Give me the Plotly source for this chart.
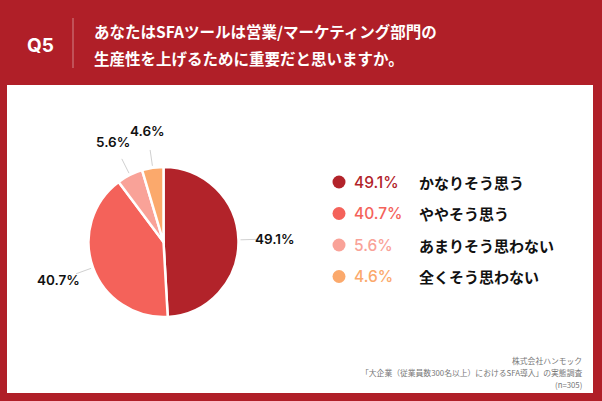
import math
import plotly.graph_objects as go

# ---- data ----
categories = ["かなりそう思う", "ややそう思う", "あまりそう思わない", "全くそう思わない"]
values = [49.1, 40.7, 5.6, 4.6]
colors = ["#b2232a", "#f4625a", "#f9a298", "#fba96c"]
title_lines = ["あなたはSFAツールは営業/マーケティング部門の", "生産性を上げるために重要だと思いますか。"]
question = "Q5"
source_lines = ["株式会社ハンモック", "「大企業（従業員数300名以上）におけるSFA導入」の実態調査", "(n=305)"]

W, H = 602, 401
RED = "#b01f28"
CX, CY, R = 163.5, 242, 75

fig = go.Figure()

fig.add_trace(go.Pie(
    labels=categories, values=values, sort=False, direction="clockwise", rotation=0,
    marker=dict(colors=colors, line=dict(color="white", width=2.5)),
    textinfo="none", hoverinfo="label+percent", showlegend=False,
    domain=dict(x=[(CX - R) / W, (CX + R) / W], y=[1 - (CY + R) / H, 1 - (CY - R) / H]),
))

shapes = [dict(type="rect", xref="x", yref="y", x0=7, y0=85, x1=593, y1=393,
               fillcolor="white", line=dict(width=0), layer="below"),
          dict(type="line", xref="x", yref="y", x0=73, y0=18, x1=73, y1=68,
               line=dict(color="rgba(255,255,255,0.45)", width=1))]
annotations = []

# pie labels with leader lines, placed from cumulative angles
total = sum(values)
cum = 0
for v in values:
    mid = (cum + v / 2) / total * 2 * math.pi
    cum += v
    sx, sy = math.sin(mid), -math.cos(mid)
    shapes.append(dict(type="line", xref="x", yref="y",
                       x0=CX + 77 * sx, y0=CY + 77 * sy, x1=CX + 93 * sx, y1=CY + 93 * sy,
                       line=dict(color="#d0d0d0", width=1)))
    annotations.append(dict(xref="x", yref="y", x=CX + 112 * sx, y=CY + 112 * sy,
                            text=f"{v}%", showarrow=False,
                            font=dict(family="Inter, Roboto, sans-serif", size=13.5,
                                      color="#111", weight=600)))

# legend: markers + colored percentages + labels
ys = [182 + i * 31.5 for i in range(len(values))]
fig.add_trace(go.Scatter(
    x=[339] * len(values), y=ys, mode="markers",
    marker=dict(size=13, color=colors, line=dict(width=0)),
    hoverinfo="skip", showlegend=False,
))
for i, (c, v, col) in enumerate(zip(categories, values, colors)):
    annotations.append(dict(xref="x", yref="y", x=352, y=ys[i], xanchor="left", text=f"{v}%",
                            showarrow=False,
                            font=dict(family="Inter, Roboto, sans-serif", size=15.5,
                                      color=col, weight=500)))
    annotations.append(dict(xref="x", yref="y", x=417, y=ys[i], xanchor="left", text=f"<b>{c}</b>",
                            showarrow=False,
                            font=dict(family="Noto Sans CJK JP", size=15, color="#111")))

# header
annotations.append(dict(xref="x", yref="y", x=40, y=45, text=f"<b>{question}</b>", showarrow=False,
                        font=dict(family="Inter, Roboto, sans-serif", size=19, color="white")))
for i, t in enumerate(title_lines):
    annotations.append(dict(xref="x", yref="y", x=92, y=31 + i * 26.5, xanchor="left",
                            text=f"<b>{t}</b>", showarrow=False,
                            font=dict(family="Noto Sans CJK JP", size=15.5, color="white")))

# source
for i, t in enumerate(source_lines):
    annotations.append(dict(xref="x", yref="y", x=584, y=360.5 + i * 12, xanchor="right",
                            text=t, showarrow=False,
                            font=dict(family="Noto Sans CJK JP", size=7.8, color="#777")))

fig.update_layout(
    width=W, height=H, margin=dict(l=0, r=0, t=0, b=0),
    paper_bgcolor=RED, plot_bgcolor="rgba(0,0,0,0)",
    xaxis=dict(range=[0, W], visible=False, fixedrange=True, domain=[0, 1]),
    yaxis=dict(range=[H, 0], visible=False, fixedrange=True, domain=[0, 1]),
    shapes=shapes, annotations=annotations, showlegend=False,
)

fig.write_html("out.html", config={"displayModeBar": False},
               post_script="document.body.style.margin='0';document.body.style.background='" + RED + "';")
